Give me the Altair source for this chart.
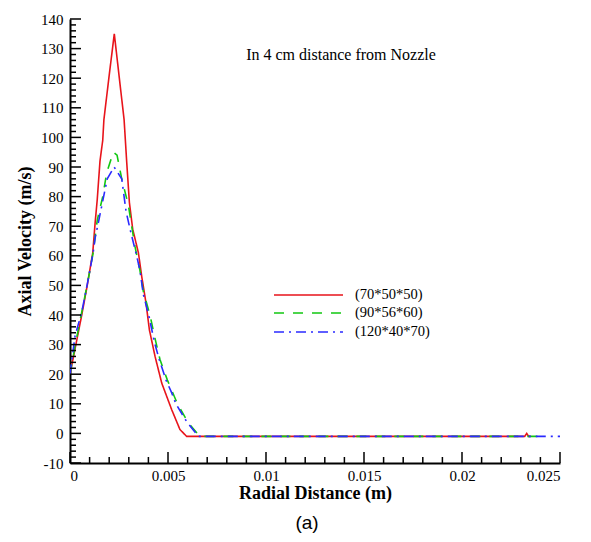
import altair as alt
import pandas as pd

# ---- data ----
labels = ["(70*50*50)", "(90*56*60)", "(120*40*70)"]
colors = ["#e8141b", "#12c812", "#2a2aff"]
dashes = [[1, 0], [10, 9], [10, 5, 2, 5]]

x_red = [0, 0.0003, 0.0006, 0.00088, 0.00116, 0.00128, 0.00139, 0.00153, 0.00167, 0.00173,
         0.00200, 0.00226, 0.00250, 0.00276, 0.00289, 0.00303, 0.00320, 0.00349, 0.00366,
         0.00388, 0.00405, 0.00434, 0.00468, 0.00519, 0.00561, 0.00595, 0.0100, 0.0150,
         0.0200, 0.0232, 0.0233, 0.0234, 0.0235]
y_red = [20, 30, 40, 50, 61, 71, 79, 92, 99, 106, 121, 135, 121, 106, 92, 78, 69, 61, 53,
         44, 35, 26, 17, 8, 1.3, -1, -1, -1, -1, -1, 0, -1, -1]

x_green = [0, 0.0003, 0.0006, 0.0009, 0.00118, 0.00139, 0.00167, 0.00187, 0.00221, 0.00240,
           0.00264, 0.00298, 0.00315, 0.00332, 0.00357, 0.00374, 0.00408, 0.00434, 0.00459,
           0.00497, 0.00548, 0.00604, 0.00663, 0.0100, 0.0150, 0.0200, 0.0240]
y_green = [20, 31, 41, 51, 61, 72, 80, 88, 95, 94, 86, 77, 70, 63, 55, 48, 40, 32, 25, 18,
           10, 3.5, -1, -1, -1, -1, -1]

x_blue = [0, 0.00026, 0.0006, 0.0009, 0.00118, 0.00128, 0.00144, 0.0019, 0.00225, 0.00264,
          0.00286, 0.0031, 0.0034, 0.00357, 0.00374, 0.00405, 0.00430, 0.00455, 0.00490,
          0.00519, 0.0054, 0.00595, 0.00655, 0.0100, 0.0150, 0.0200, 0.0250]
y_blue = [20, 33, 41, 51, 61, 66, 71, 86, 90, 86, 75, 68, 60, 55, 47, 39, 31, 25, 18, 13.7,
          10, 4, -1, -1, -1, -1, -1]

x_ticks = [0, 0.005, 0.01, 0.015, 0.02, 0.025]
x_minor = [0.001, 0.002, 0.003, 0.004, 0.006, 0.007, 0.008, 0.009, 0.011, 0.012, 0.013,
           0.014, 0.016, 0.017, 0.018, 0.019, 0.021, 0.022, 0.023, 0.024]
y_ticks = [-10, 0, 10, 20, 30, 40, 50, 60, 70, 80, 90, 100, 110, 120, 130, 140]
y_minor = [v + s for v in y_ticks[:-1] for s in (2, 4, 6, 8)]

title_text = "In 4 cm distance from Nozzle"
caption = "(a)"

W, H = 490, 444
SERIF = "Liberation Serif"

rows = []
for lab, xs, ys in zip(labels, [x_red, x_green, x_blue], [y_red, y_green, y_blue]):
    for i, (a, b) in enumerate(zip(xs, ys)):
        rows.append({"series": lab, "x": a, "y": b, "i": i})
df = pd.DataFrame(rows)

xscale = alt.Scale(domain=[0, 0.025], nice=False, zero=False)
yscale = alt.Scale(domain=[-10, 140], nice=False, zero=False)

xaxis = alt.Axis(values=x_ticks, format="~g", title="Radial Distance (m)",
                 labelPadding=5, titlePadding=1, labelOverlap=False)
yaxis = alt.Axis(values=y_ticks, title="Axial Velocity (m/s)",
                 labelExpr="replace(datum.label, '\u2212', '-')",
                 labelPadding=7, titlePadding=6, labelOverlap=False)

lines = alt.Chart(df).mark_line(strokeWidth=1.6, clip=True).encode(
    x=alt.X("x:Q", scale=xscale, axis=xaxis),
    y=alt.Y("y:Q", scale=yscale, axis=yaxis),
    color=alt.Color("series:N", scale=alt.Scale(domain=labels, range=colors), legend=None),
    strokeDash=alt.StrokeDash("series:N", scale=alt.Scale(domain=labels, range=dashes),
                              legend=None),
    detail="series:N",
    order="i:Q",
)

ymaj = alt.Chart(pd.DataFrame({"v": y_ticks})).mark_rule(color="black", strokeWidth=1.5).encode(
    y=alt.Y("v:Q", scale=yscale, axis=yaxis), x=alt.value(0), x2=alt.value(11))
ymin = alt.Chart(pd.DataFrame({"v": y_minor})).mark_rule(color="black", strokeWidth=1.5).encode(
    y=alt.Y("v:Q", scale=yscale, axis=yaxis), x=alt.value(0), x2=alt.value(6))
xmaj = alt.Chart(pd.DataFrame({"v": x_ticks})).mark_rule(color="black", strokeWidth=1.5).encode(
    x=alt.X("v:Q", scale=xscale, axis=xaxis), y=alt.value(H), y2=alt.value(H - 11))
xmin = alt.Chart(pd.DataFrame({"v": x_minor})).mark_rule(color="black", strokeWidth=1.5).encode(
    x=alt.X("v:Q", scale=xscale, axis=xaxis), y=alt.value(H), y2=alt.value(H - 6))

layers = [lines, ymaj, ymin, xmaj, xmin]

# legend drawn inside the plot
leg_y = [276, 294, 313]
for lab, c, d, yy in zip(labels, colors, dashes, leg_y):
    one = pd.DataFrame({"label": [lab]})
    layers.append(alt.Chart(one).mark_rule(color=c, strokeDash=d, strokeWidth=1.6).encode(
        x=alt.value(204), x2=alt.value(273), y=alt.value(yy)))
    layers.append(alt.Chart(one).mark_text(font=SERIF, fontSize=14.5, align="left",
                                           baseline="middle", color="black").encode(
        x=alt.value(285), y=alt.value(yy), text="label:N"))

layers.append(alt.Chart(pd.DataFrame({"t": [title_text]})).mark_text(
    font=SERIF, fontSize=16, align="center", baseline="middle", color="black").encode(
    x=alt.value(271), y=alt.value(36), text="t:N"))
layers.append(alt.Chart(pd.DataFrame({"t": [caption]})).mark_text(
    font="Liberation Sans", fontSize=19, align="center", baseline="alphabetic",
    color="black").encode(
    x=alt.value(237), y=alt.value(510), text="t:N"))

chart = alt.layer(*layers).properties(
    width=W, height=H,
    autosize=alt.AutoSizeParams(type="none"),
    padding={"left": 62, "top": 11, "right": 23, "bottom": 71},
    background="white",
).configure_view(stroke=None).configure_axis(
    grid=False, ticks=False, domain=True, domainColor="black", domainWidth=2,
    labelFont=SERIF, labelFontSize=15, labelColor="black", labelOverlap=False,
    titleFont=SERIF, titleFontSize=18, titleFontWeight="bold", titleColor="black",
)

chart.save("out.html", embed_options={"renderer": "svg", "actions": False})
